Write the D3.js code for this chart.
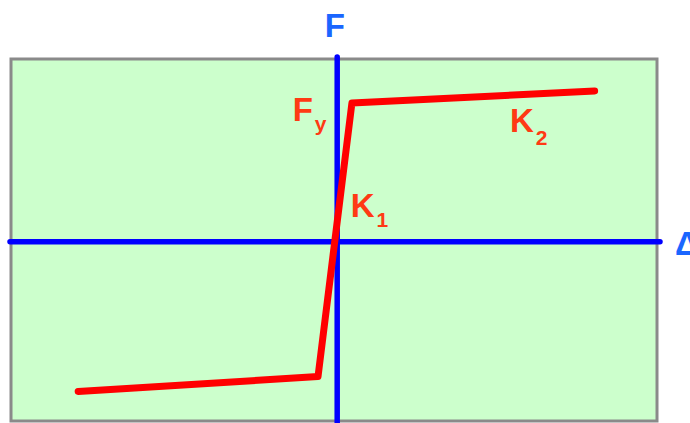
<!DOCTYPE html>
<html>
<head>
<meta charset="utf-8">
<script src="https://cdn.jsdelivr.net/npm/d3@7"></script>
<style>
  body { margin: 0; background: #fff; }
  text { font-family: "Liberation Sans", Arial, sans-serif; font-weight: bold; }
</style>
</head>
<body>
<div id="chart"></div>
<script>
// bilinear force-displacement curve
const displacement = [-8.1, -0.6, 0.46, 8.05];
const force = [-4.55, -4.1, 4.21, 4.58];
const axisLabels = ["F", "Δ"];
const curveLabels = [["F", "y"], ["K", "1"], ["K", "2"]];

// chart box
let w = 690, h = 423;
let box = { left: 11, right: 657, top: 59, bottom: 421 };

let svg = d3.select("#chart").append("svg").attr("width", w).attr("height", h);

// scales - origin lands at about (337, 242)
let xScale = d3.scaleLinear().domain([-10.2, 10]).range([box.left, box.right]);
let yScale = d3.scaleLinear().domain([-5.45, 5.55]).range([box.bottom, box.top]);

// background panel
svg.append("rect")
  .attr("x", box.left).attr("y", box.top)
  .attr("width", box.right - box.left).attr("height", box.bottom - box.top)
  .attr("fill", "#ccffcc").attr("stroke", "#8a8a8a").attr("stroke-width", 3);

let x0 = xScale(0), y0 = yScale(0);

// axes
svg.append("line")
  .attr("x1", box.left - 1).attr("x2", box.right + 3).attr("y1", y0).attr("y2", y0)
  .attr("stroke", "#0000ff").attr("stroke-width", 5.5).attr("stroke-linecap", "round");
svg.append("line")
  .attr("x1", x0).attr("x2", x0).attr("y1", box.top - 2).attr("y2", h + 5)
  .attr("stroke", "#0000ff").attr("stroke-width", 5.5).attr("stroke-linecap", "round");

// curve
let pts = displacement.map((d, i) => [d, force[i]]);
let line = d3.line().x(d => xScale(d[0])).y(d => yScale(d[1]));
svg.append("path").datum(pts).attr("d", line)
  .attr("fill", "none").attr("stroke", "#ff0000").attr("stroke-width", 7)
  .attr("stroke-linecap", "round").attr("stroke-linejoin", "round");

// axis labels
svg.append("text").text(axisLabels[0]).attr("x", x0 - 12.5).attr("y", 37)
  .attr("font-size", 33).attr("fill", "#1a66ff");
svg.append("text").text(axisLabels[1]).attr("x", box.right + 18).attr("y", y0 + 13)
  .attr("font-size", 33).attr("fill", "#1a66ff");

// curve labels (main letter + subscript)
let red = "#ff3a14";
let labelPos = [
  { x: x0 - 44.5, y: yScale(force[2]) + 18, dy: 10 },
  { x: x0 + 13.5, y: y0 - 25, dy: 10 },
  { x: xScale(5.4), y: yScale(force[3]) + 41, dy: 13 }
];
curveLabels.forEach((lab, i) => {
  let t = svg.append("text").attr("x", labelPos[i].x).attr("y", labelPos[i].y).attr("fill", red);
  t.append("tspan").text(lab[0]).attr("font-size", 33);
  t.append("tspan").text(lab[1]).attr("font-size", 21).attr("dx", 2).attr("dy", labelPos[i].dy);
});
</script>
</body>
</html>
